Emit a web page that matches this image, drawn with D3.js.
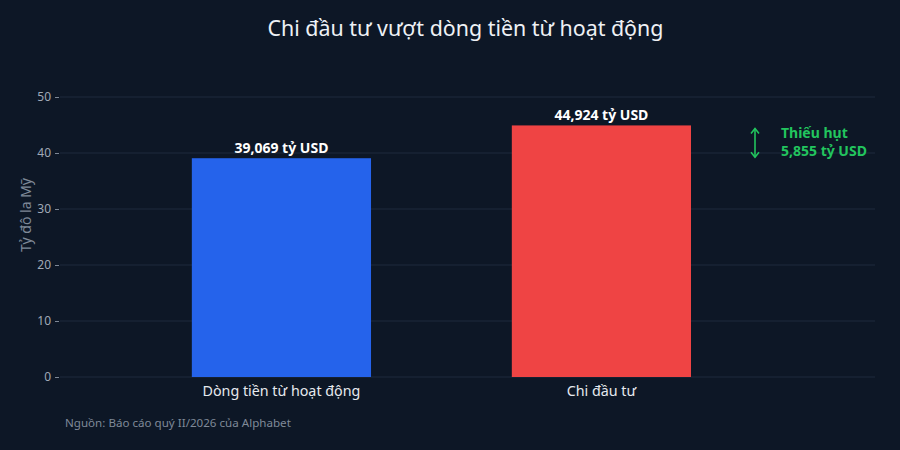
<!DOCTYPE html>
<html><head><meta charset="utf-8">
<script src="https://cdn.jsdelivr.net/npm/d3@7"></script>
<style>
html,body{margin:0;padding:0;background:#0d1726;}
svg{display:block;font-family:"Noto Sans",sans-serif;}
</style></head>
<body>
<svg id="chart" width="900" height="450"></svg>
<script>
const categories = ["Dòng tiền từ hoạt động", "Chi đầu tư"];
const values = [39.069, 44.924];
const valueLabels = ["39,069 tỷ USD", "44,924 tỷ USD"];
const barColors = ["#2563eb", "#ef4444"];
const yTicks = [0, 10, 20, 30, 40, 50];
const gapLabel = ["Thiếu hụt", "5,855 tỷ USD"];
const title = "Chi đầu tư vượt dòng tiền từ hoạt động";
const yTitle = "Tỷ đô la Mỹ";
const source = "Nguồn: Báo cáo quý II/2026 của Alphabet";

const svg = d3.select("#chart");
const W = 900, H = 450;
const pL = 60, pR = 875, pT = 97, pB = 377;

svg.append("rect").attr("width", W).attr("height", H).attr("fill", "#0d1726");

const x = d3.scaleLinear().domain([-0.692, 1.855]).range([pL, pR]);
const y = d3.scaleLinear().domain([0, 50]).range([pB, pT]);
const barW = x(0.56) - x(0);

// grid
svg.append("g").selectAll("line").data(yTicks).join("line")
  .attr("x1", pL).attr("x2", pR)
  .attr("y1", d => y(d)).attr("y2", d => y(d))
  .attr("stroke", "#1f2b3c").attr("stroke-width", 1);

// y axis
const yAxis = d3.axisLeft(y).tickValues(yTicks).tickSize(4).tickPadding(4);
const ga = svg.append("g").attr("transform", `translate(${pL - 1},0)`).call(yAxis);
ga.select(".domain").remove();
ga.selectAll(".tick line").attr("stroke", "#7d8796");
ga.selectAll(".tick text").attr("fill", "#a0a9b6").attr("font-size", 12)
  .attr("font-family", "'Noto Sans', sans-serif");

svg.append("text")
  .attr("transform", `translate(31,215) rotate(-90)`)
  .attr("text-anchor", "middle").attr("fill", "#7f8998").attr("font-size", 14)
  .text(yTitle);

// bars
svg.append("g").selectAll("rect").data(values).join("rect")
  .attr("x", (d, i) => x(i) - barW / 2)
  .attr("y", d => y(d))
  .attr("width", barW)
  .attr("height", d => y(0) - y(d))
  .attr("fill", (d, i) => barColors[i]);

// value labels
svg.append("g").selectAll("text").data(values).join("text")
  .attr("x", (d, i) => x(i))
  .attr("y", d => y(d) - 5)
  .attr("text-anchor", "middle").attr("fill", "#ffffff")
  .attr("font-size", 14).attr("font-weight", "bold")
  .text((d, i) => valueLabels[i]);

// category labels
svg.append("g").selectAll("text").data(categories).join("text")
  .attr("x", (d, i) => x(i))
  .attr("y", pB + 19)
  .attr("text-anchor", "middle").attr("fill", "#e6e9ee")
  .attr("font-size", 14.3)
  .text(d => d);

// gap annotation
const green = "#22c55e";
const ax = 755;
const ay1 = y(values[1]) + 3, ay2 = y(values[0]) - 1;
const ag = svg.append("g").attr("stroke", green).attr("stroke-width", 1.6).attr("fill", "none");
ag.append("line").attr("x1", ax).attr("x2", ax).attr("y1", ay1).attr("y2", ay2);
ag.append("path").attr("d", `M${ax - 4},${ay1 + 5} L${ax},${ay1} L${ax + 4},${ay1 + 5}`);
ag.append("path").attr("d", `M${ax - 4},${ay2 - 5} L${ax},${ay2} L${ax + 4},${ay2 - 5}`);
svg.append("g").selectAll("text").data(gapLabel).join("text")
  .attr("x", 781).attr("y", (d, i) => 138 + i * 18)
  .attr("fill", green).attr("font-size", 14).attr("font-weight", "bold")
  .text(d => d);

// title
svg.append("text").attr("x", 465.5).attr("y", 36).attr("text-anchor", "middle")
  .attr("fill", "#eef1f5").attr("font-size", 21.4).text(title);

// source
svg.append("text").attr("x", 65).attr("y", 427)
  .attr("fill", "#7f8998").attr("font-size", 11.6).text(source);
</script>
</body></html>
